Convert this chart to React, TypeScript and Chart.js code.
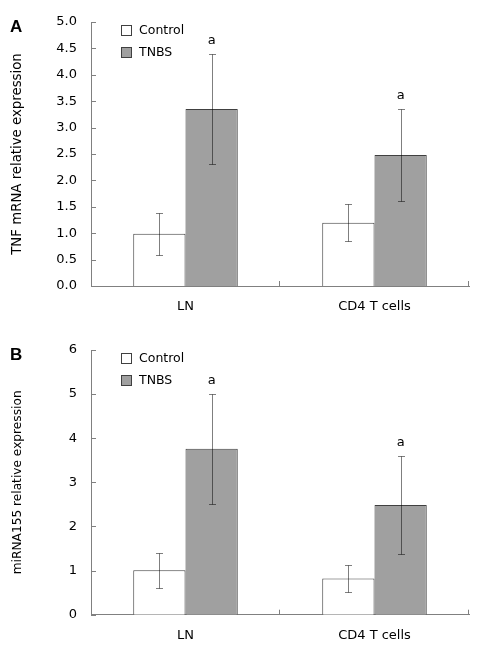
import React, { useEffect, useRef } from 'react';
import { Chart, registerables } from 'chart.js';
Chart.register(...registerables);

const FONT = '"DejaVu Sans", Verdana, sans-serif';

const categories = ['LN', 'CD4 T cells'];
const seriesNames = ['Control', 'TNBS'];

// Panel A: TNF mRNA
const tnfControl = [0.99, 1.2];
const tnfControlErr = [0.4, 0.35];
const tnfTnbs = [3.35, 2.48];
const tnfTnbsErr = [1.045, 0.865];
const tnfTicks = [0, 0.5, 1.0, 1.5, 2.0, 2.5, 3.0, 3.5, 4.0, 4.5, 5.0];

// Panel B: miRNA155
const mirControl = [1.01, 0.82];
const mirControlErr = [0.395, 0.315];
const mirTnbs = [3.76, 2.485];
const mirTnbsErr = [1.245, 1.115];
const mirTicks = [0, 1, 2, 3, 4, 5, 6];

const tnbsSig = ['a', 'a'];

type PanelProps = {
  letter: string;
  yTitle: string;
  titleSize: number;
  ticks: number[];
  decimals: number;
  control: number[];
  controlErr: number[];
  tnbs: number[];
  tnbsErr: number[];
  top: number;
  height: number;
  padTop: number;
  xHeight: number;
};

function Panel(p: PanelProps) {
  const ref = useRef<HTMLCanvasElement | null>(null);
  useEffect(() => {
    if (!ref.current) return;
    const errs = [p.controlErr, p.tnbsErr];
    const vals = [p.control, p.tnbs];
    const plugin = {
      id: 'custom' + p.letter,
      afterDatasetsDraw(chart: any) {
        const ctx = chart.ctx;
        const ys = chart.scales.y;
        ctx.save();
        ctx.strokeStyle = 'rgba(0,0,0,0.5)';
        ctx.lineWidth = 1;
        for (let d = 0; d < 2; d++) {
          const meta = chart.getDatasetMeta(d);
          meta.data.forEach((bar: any, i: number) => {
            const x = Math.round(bar.x) + 0.5;
            const yTop = Math.round(ys.getPixelForValue(vals[d][i] + errs[d][i])) + 0.5;
            const yBot = Math.round(ys.getPixelForValue(vals[d][i] - errs[d][i])) + 0.5;
            ctx.beginPath();
            ctx.moveTo(x, yTop);
            ctx.lineTo(x, yBot);
            ctx.moveTo(x - 3.5, yTop);
            ctx.lineTo(x + 3.5, yTop);
            ctx.moveTo(x - 3.5, yBot);
            ctx.lineTo(x + 3.5, yBot);
            ctx.stroke();
            if (d === 1 && tnbsSig[i]) {
              ctx.fillStyle = '#000';
              ctx.font = '13px ' + FONT;
              ctx.textAlign = 'center';
              ctx.textBaseline = 'middle';
              ctx.fillText(tnbsSig[i], bar.x, yTop - 14);
            }
          });
        }
        ctx.restore();
      },
      afterDraw(chart: any) {
        const ctx = chart.ctx;
        const area = chart.chartArea;
        const ys = chart.scales.y;
        ctx.save();
        ctx.strokeStyle = '#808080';
        ctx.lineWidth = 1;
        ctx.beginPath();
        ys.ticks.forEach((t: any) => {
          const y = Math.round(ys.getPixelForValue(t.value)) + 0.5;
          ctx.moveTo(area.left, y);
          ctx.lineTo(area.left + 5, y);
        });
        const n = chart.data.labels.length;
        const w = (area.right - area.left) / n;
        for (let i = 1; i <= n; i++) {
          const x = Math.round(area.left + w * i) - 0.5;
          ctx.moveTo(x, area.bottom);
          ctx.lineTo(x, area.bottom - 5);
        }
        ctx.stroke();
        // legend
        const ds = chart.data.datasets;
        ctx.font = '12.5px ' + FONT;
        ctx.textAlign = 'left';
        ctx.textBaseline = 'middle';
        ds.forEach((d: any, i: number) => {
          const cy = area.top + 8 + i * 22;
          ctx.fillStyle = d.backgroundColor;
          ctx.fillRect(121.5, Math.round(cy - 5) + 0.5, 10, 10);
          ctx.strokeStyle = '#404040';
          ctx.strokeRect(121.5, Math.round(cy - 5) + 0.5, 10, 10);
          ctx.fillStyle = '#000';
          ctx.fillText(d.label, 139, cy + 1);
        });
        // panel letter
        ctx.font = 'bold 17px "Liberation Sans", Arial, sans-serif';
        ctx.fillStyle = '#000';
        ctx.fillText(p.letter, 10, area.top + 5);
        ctx.restore();
      },
    };
    const chart = new Chart(ref.current, {
      type: 'bar',
      data: {
        labels: categories,
        datasets: [
          {
            label: seriesNames[0],
            data: p.control,
            backgroundColor: '#ffffff',
            borderColor: '#404040',
            borderWidth: 1,
            categoryPercentage: 0.553,
            barPercentage: 1,
          },
          {
            label: seriesNames[1],
            data: p.tnbs,
            backgroundColor: '#a0a0a0',
            borderColor: '#404040',
            borderWidth: 1,
            categoryPercentage: 0.553,
            barPercentage: 1,
          },
        ],
      },
      options: {
        responsive: false,
        animation: false,
        devicePixelRatio: 1,
        layout: { padding: { left: 0, right: 9, top: p.padTop, bottom: 0 } },
        plugins: { legend: { display: false }, tooltip: { enabled: false } },
        scales: {
          x: {
            grid: { display: false, drawTicks: false },
            border: { color: '#808080', width: 1 },
            ticks: { color: '#000', font: { family: FONT, size: 13 }, padding: 13 },
            afterFit(scale: any) {
              scale.height = p.xHeight;
            },
          },
          y: {
            min: p.ticks[0],
            max: p.ticks[p.ticks.length - 1],
            afterBuildTicks(scale: any) {
              scale.ticks = p.ticks.map((v) => ({ value: v }));
            },
            grid: { display: false, drawTicks: false },
            border: { color: '#808080', width: 1 },
            ticks: {
              color: '#000',
              font: { family: FONT, size: 13 },
              padding: 14,
              callback: (v: any) => Number(v).toFixed(p.decimals),
            },
            title: {
              display: true,
              text: p.yTitle,
              color: '#000',
              font: { family: FONT, size: p.titleSize },
              padding: { top: 18 - p.titleSize * 0.6, bottom: 0 },
            },
            afterFit(scale: any) {
              scale.width = 91;
            },
          },
        },
      },
      plugins: [plugin],
    } as any);
    return () => chart.destroy();
  }, []);
  return (
    <div style={{ position: 'absolute', left: 0, top: p.top, width: 478, height: p.height }}>
      <canvas ref={ref} width={478} height={p.height} style={{ display: 'block' }} />
    </div>
  );
}

export default function App() {
  return (
    <div style={{ position: 'absolute', left: 0, top: 0, width: 478, height: 652, background: '#fff' }}>
      <Panel
        letter="A"
        yTitle="TNF mRNA relative expression"
        titleSize={13.3}
        ticks={tnfTicks}
        decimals={1}
        control={tnfControl}
        controlErr={tnfControlErr}
        tnbs={tnfTnbs}
        tnbsErr={tnfTnbsErr}
        top={0}
        height={320}
        padTop={22}
        xHeight={34}
      />
      <Panel
        letter="B"
        yTitle="miRNA155 relative expression"
        titleSize={12.2}
        ticks={mirTicks}
        decimals={0}
        control={mirControl}
        controlErr={mirControlErr}
        tnbs={mirTnbs}
        tnbsErr={mirTnbsErr}
        top={320}
        height={332}
        padTop={30}
        xHeight={37.3}
      />
    </div>
  );
}
